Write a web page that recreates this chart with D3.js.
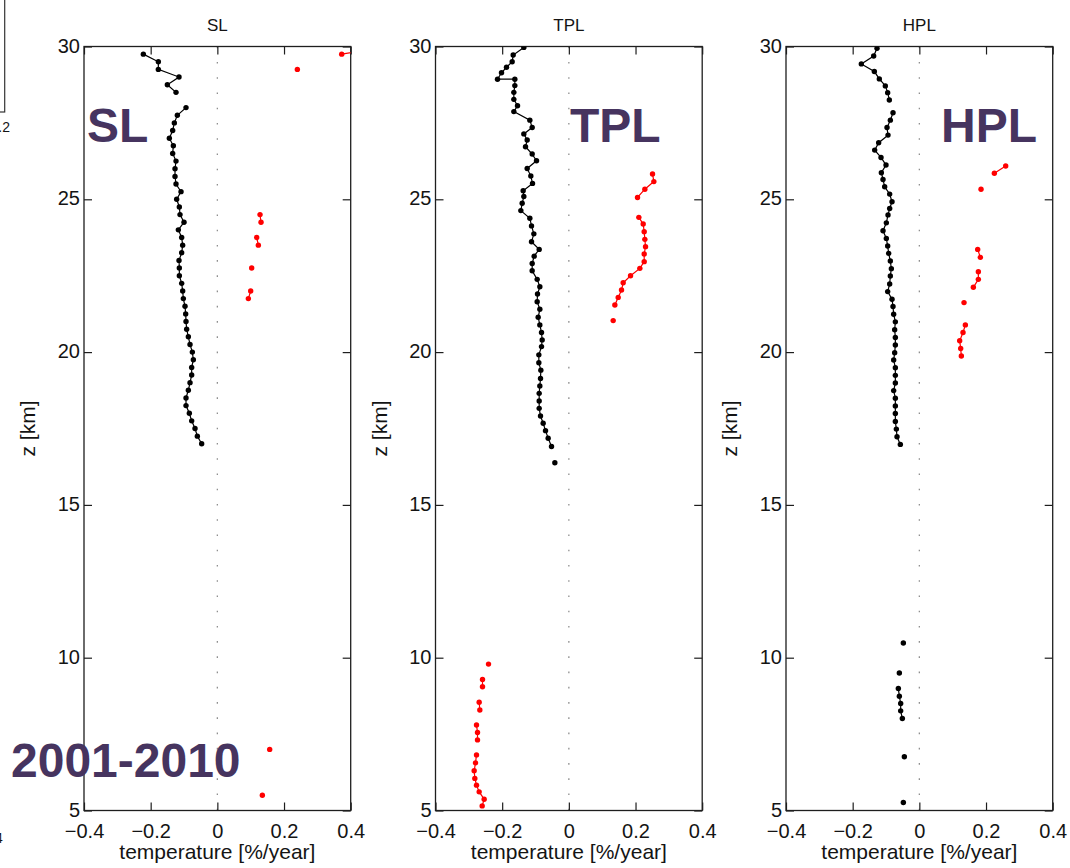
<!DOCTYPE html>
<html>
<head>
<meta charset="utf-8">
<script src="https://cdn.jsdelivr.net/npm/d3@7"></script>
<style>
  body { margin: 0; background: #fff; }
  svg { display: block; }
  text { font-family: "Liberation Sans", Arial, Helvetica, sans-serif; }
</style>
</head>
<body>
<svg id="chart" width="1070" height="868"></svg>
<script>
// Temperature trend profiles, 2001-2010, [altitude km, trend %/year]; null breaks a line.
const panelTitles = ["SL", "TPL", "HPL"];
const xTickValues = [-0.4, -0.2, 0, 0.2, 0.4];
const xTickLabels = ["\u22120.4", "\u22120.2", "0", "0.2", "0.4"];
const zTickValues = [5, 10, 15, 20, 25, 30];

const slCooling = [
  [29.75,-0.222],[29.5,-0.177],[29.25,-0.177],[29.0,-0.115],[28.75,-0.150],[28.5,-0.124], null,
  [28.0,-0.094],[27.75,-0.120],[27.5,-0.129],[27.25,-0.134],[27.0,-0.144],[26.75,-0.132],[26.5,-0.134],
  [26.25,-0.124],[26.0,-0.127],[25.75,-0.127],[25.5,-0.124],[25.25,-0.109],[25.0,-0.122],[24.75,-0.114],
  [24.5,-0.112],[24.25,-0.100],[24.0,-0.117],[23.75,-0.107],[23.5,-0.104],[23.25,-0.107],[23.0,-0.115],
  [22.75,-0.114],[22.5,-0.114],[22.25,-0.107],[22.0,-0.104],[21.75,-0.102],[21.5,-0.097],[21.25,-0.095],
  [21.0,-0.094],[20.75,-0.092],[20.5,-0.087],[20.25,-0.082],[20.0,-0.075],[19.75,-0.072],[19.5,-0.077],
  [19.25,-0.077],[19.0,-0.082],[18.75,-0.087],[18.5,-0.094],[18.25,-0.094],[18.0,-0.084],[17.75,-0.077],
  [17.5,-0.067],[17.25,-0.060],[17.0,-0.047]
];
const slWarming = [
  [30.0,0.52],[29.75,0.373], null, [29.25,0.240], null,
  [24.5,0.128],[24.25,0.131], null, [23.75,0.118],[23.5,0.123], null, [22.75,0.103], null,
  [22.0,0.100],[21.75,0.093], null, [7.0,0.157], null, [5.5,0.135]
];

const tplCooling = [
  [29.97,-0.135],[29.72,-0.167],[29.50,-0.170],[29.32,-0.187],[29.14,-0.202],[28.93,-0.214],[28.93,-0.162],
  [28.72,-0.162],[28.50,-0.165],[28.27,-0.165],[28.06,-0.154],[27.87,-0.165],[27.59,-0.117],[27.35,-0.110],
  [27.14,-0.135],[26.94,-0.125],[26.72,-0.130],[26.48,-0.110],[26.26,-0.097],[26.01,-0.125],[25.76,-0.114],
  [25.52,-0.109],[25.28,-0.137],[25.09,-0.135],[24.87,-0.140],[24.63,-0.144],[24.38,-0.117],[24.13,-0.112],
  [23.87,-0.105],[23.61,-0.112],[23.36,-0.089],[23.14,-0.104],[22.90,-0.110],[22.66,-0.110],[22.38,-0.095],
  [22.14,-0.087],[21.90,-0.094],[21.65,-0.095],[21.40,-0.087],[21.14,-0.092],[20.89,-0.087],[20.64,-0.082],
  [20.40,-0.080],[20.18,-0.082],[19.91,-0.090],[19.65,-0.090],[19.41,-0.084],[19.14,-0.085],[18.89,-0.087],
  [18.65,-0.089],[18.40,-0.089],[18.16,-0.089],[17.91,-0.085],[17.67,-0.077],[17.43,-0.070],[17.18,-0.062],
  [16.91,-0.052], null, [16.38,-0.042]
];
const tplWarming = [
  [25.83,0.251],[25.58,0.255],[25.33,0.228],[25.06,0.206], null,
  [24.41,0.210],[24.19,0.223],[23.94,0.226],[23.69,0.228],[23.45,0.230],[23.21,0.226],[22.96,0.226],
  [22.74,0.213],[22.50,0.185],[22.27,0.163],[22.03,0.158],[21.79,0.148],[21.54,0.138], null, [21.03,0.133], null,
  [9.79,-0.241], null, [9.29,-0.259],[9.05,-0.259], null, [8.54,-0.269],[8.29,-0.267], null,
  [7.80,-0.277],[7.55,-0.274],[7.31,-0.274], null,
  [6.82,-0.277],[6.56,-0.280],[6.30,-0.284],[6.05,-0.282],[5.83,-0.277],[5.61,-0.269],[5.37,-0.254],[5.15,-0.260]
];

const hplCooling = [
  [29.94,-0.127],[29.69,-0.137],[29.43,-0.174],[29.18,-0.135],[28.94,-0.120],[28.71,-0.102],[28.49,-0.095],
  [28.25,-0.090], null,
  [27.83,-0.079],[27.59,-0.087],[27.35,-0.097],[27.10,-0.094],[26.85,-0.122],[26.61,-0.134],[26.37,-0.115],
  [26.12,-0.100],[25.87,-0.114],[25.65,-0.109],[25.41,-0.104],[25.17,-0.089],[24.92,-0.082],[24.70,-0.089],
  [24.49,-0.094],[24.23,-0.099],[23.97,-0.109],[23.72,-0.099],[23.47,-0.095],[23.23,-0.092],[22.98,-0.087],
  [22.73,-0.084],[22.49,-0.087],[22.23,-0.089],[21.98,-0.095],[21.73,-0.082],[21.49,-0.079],[21.24,-0.077],
  [20.99,-0.072],[20.73,-0.074],[20.48,-0.072],[20.23,-0.072],[19.98,-0.074],[19.74,-0.077],[19.49,-0.072],
  [19.24,-0.072],[18.99,-0.072],[18.74,-0.077],[18.49,-0.072],[18.24,-0.072],[17.99,-0.072],[17.73,-0.072],
  [17.48,-0.069],[17.23,-0.067],[16.98,-0.057], null,
  [10.48,-0.048], null, [9.50,-0.060], null,
  [8.99,-0.063],[8.74,-0.060],[8.50,-0.056],[8.26,-0.056],[8.01,-0.051], null,
  [6.76,-0.045], null, [5.26,-0.048]
];
const hplWarming = [
  [26.09,0.259],[25.85,0.225], null, [25.33,0.185], null,
  [23.36,0.175],[23.10,0.183], null, [22.63,0.177],[22.38,0.177],[22.12,0.162], null,
  [21.62,0.134], null, [20.89,0.138],[20.64,0.131],[20.37,0.121],[20.12,0.124],[19.87,0.126]
];

const profiles = [
  { title: panelTitles[0], cooling: slCooling,  warming: slWarming },
  { title: panelTitles[1], cooling: tplCooling, warming: tplWarming },
  { title: panelTitles[2], cooling: hplCooling, warming: hplWarming }
];

// ---- layout ----
const svg = d3.select("#chart");
const panelLeft = [84, 435.5, 786];
const panelW = 266.7;
const plotTop = 46.5, plotBottom = 810.5;
const frameColor = "#1e1e1e";
const labelColor = "#141414";
const overlayColor = "#46345f";

const x = d3.scaleLinear().domain([-0.4, 0.4]).range([0, panelW]);
const y = d3.scaleLinear().domain([5, 30]).range([plotBottom, plotTop]);

const line = d3.line()
  .defined(d => d !== null)
  .x(d => x(d[1]))
  .y(d => y(d[0]));

profiles.forEach((p, i) => {
  const g = svg.append("g").attr("transform", `translate(${panelLeft[i]},0)`);
  const clipId = "clip" + i;
  g.append("clipPath").attr("id", clipId)
    .append("rect").attr("x", 0).attr("y", plotTop).attr("width", panelW).attr("height", plotBottom - plotTop);

  // zero reference line
  g.append("line")
    .attr("x1", x(0)).attr("x2", x(0))
    .attr("y1", plotTop).attr("y2", plotBottom)
    .attr("stroke", "#8f8f8f").attr("stroke-width", 1.3)
    .attr("stroke-dasharray", "1.6 13.64")
    .attr("stroke-dashoffset", -15.5);

  // axes with inward ticks
  const styleAxis = sel => {
    sel.select(".domain").remove();
    sel.selectAll(".tick line").attr("stroke", frameColor).attr("stroke-width", 1.2);
    sel.selectAll("text").attr("fill", labelColor).attr("font-size", 20);
  };
  g.append("g").attr("transform", `translate(0,${plotBottom})`)
    .call(d3.axisBottom(x).tickValues(xTickValues).tickSize(-8).tickPadding(13)
      .tickFormat((d, k) => xTickLabels[k]))
    .call(styleAxis);
  g.append("g").attr("transform", `translate(0,${plotTop})`)
    .call(d3.axisTop(x).tickValues(xTickValues).tickSize(-8).tickFormat(""))
    .call(styleAxis);
  g.append("g")
    .call(d3.axisLeft(y).tickValues(zTickValues).tickSize(-8).tickPadding(4).tickFormat(d3.format("d")))
    .call(styleAxis)
    .call(sel => sel.selectAll("text").attr("dy", "0.28em"));
  g.append("g").attr("transform", `translate(${panelW},0)`)
    .call(d3.axisRight(y).tickValues(zTickValues).tickSize(-8).tickFormat(""))
    .call(styleAxis);

  // frame
  g.append("rect")
    .attr("x", 0).attr("y", plotTop).attr("width", panelW).attr("height", plotBottom - plotTop)
    .attr("fill", "none").attr("stroke", frameColor).attr("stroke-width", 1.3);

  // profiles
  const series = [
    { data: p.cooling, color: "#000000" },
    { data: p.warming, color: "#ff0000" }
  ];
  const plot = g.append("g").attr("clip-path", `url(#${clipId})`);
  series.forEach(s => {
    plot.append("path")
      .datum(s.data)
      .attr("d", line)
      .attr("fill", "none")
      .attr("stroke", s.color)
      .attr("stroke-width", 1.2);
    plot.selectAll(null)
      .data(s.data.filter(d => d !== null))
      .join("circle")
      .attr("cx", d => x(d[1]))
      .attr("cy", d => y(d[0]))
      .attr("r", 2.7)
      .attr("fill", s.color);
  });

  // panel title and axis labels
  g.append("text")
    .attr("x", x(0)).attr("y", 31)
    .attr("text-anchor", "middle")
    .attr("font-size", 17).attr("fill", labelColor)
    .text(p.title);
  g.append("text")
    .attr("x", x(0)).attr("y", 859)
    .attr("text-anchor", "middle")
    .attr("font-size", 21).attr("fill", labelColor)
    .text("temperature [%/year]");
  g.append("text")
    .attr("transform", `translate(-49,${(plotTop + plotBottom) / 2}) rotate(-90)`)
    .attr("text-anchor", "middle")
    .attr("font-size", 21).attr("fill", labelColor)
    .text("z [km]");
});

// large region labels
const overlay = [
  { text: "SL",  x: 87,  y: 142 },
  { text: "TPL", x: 570, y: 142 },
  { text: "HPL", x: 941, y: 142 },
  { text: "2001-2010", x: 11, y: 777 }
];
svg.append("g").selectAll("text")
  .data(overlay)
  .join("text")
  .attr("x", d => d.x).attr("y", d => d.y)
  .attr("font-size", 48).attr("font-weight", "bold")
  .attr("fill", overlayColor)
  .text(d => d.text);

// edge of the neighbouring figure
svg.append("rect")
  .attr("x", -100).attr("y", -10).attr("width", 104.7).attr("height", 122)
  .attr("fill", "none").attr("stroke", "#333").attr("stroke-width", 1.2);
svg.append("text").attr("x", 10).attr("y", 132).attr("text-anchor", "end")
  .attr("font-size", 14).attr("fill", labelColor).text("0.2");
svg.append("text").attr("x", -5).attr("y", 843)
  .attr("font-size", 14).attr("fill", labelColor).text("4");
</script>
</body>
</html>
